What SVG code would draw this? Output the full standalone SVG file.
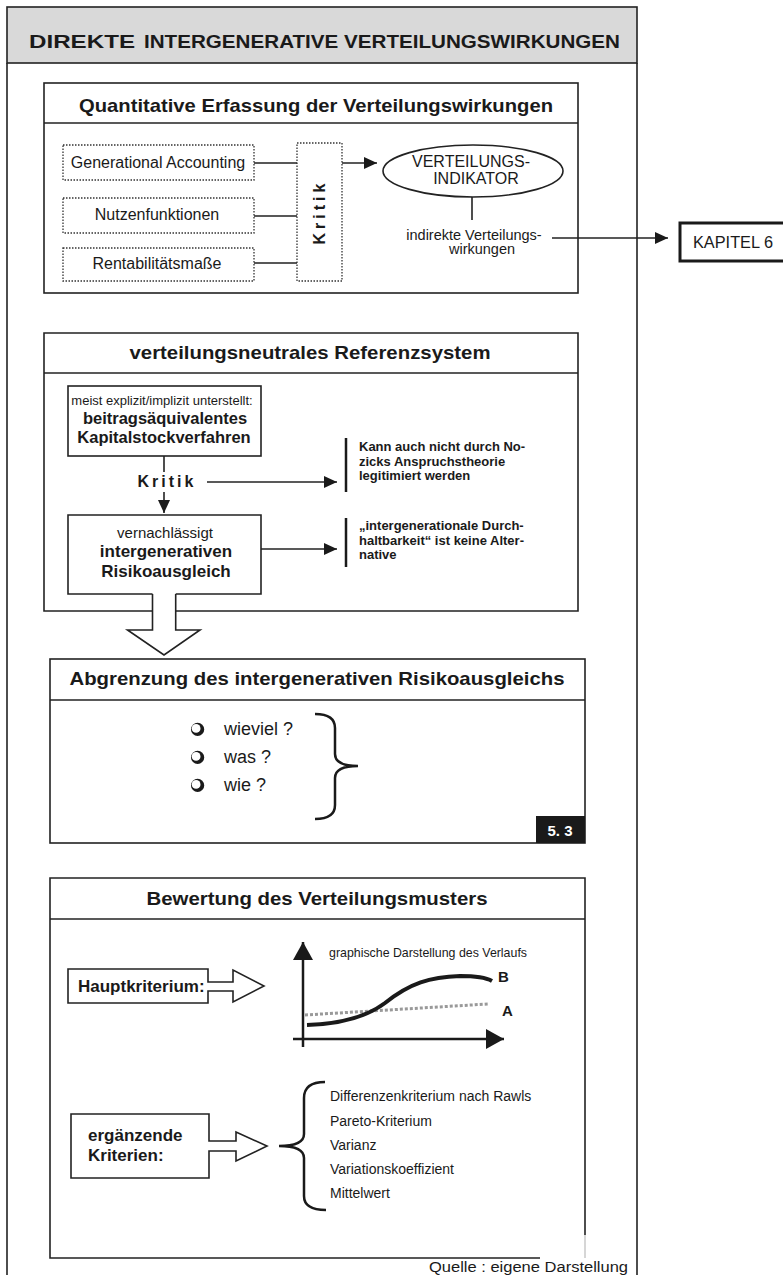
<svg xmlns="http://www.w3.org/2000/svg" width="783" height="1275" viewBox="0 0 783 1275">
<defs>
<style>
text{font-family:"Liberation Sans",Arial,sans-serif;fill:#1a1a1a}
.b{font-weight:bold}
.box{fill:#fff;stroke:#222;stroke-width:1.6}
.dot{fill:#fff;stroke:#333;stroke-width:1.3;stroke-dasharray:1.5 1.5}
.ln{fill:none;stroke:#222;stroke-width:1.6}
.title{font-weight:bold;font-size:19px;text-anchor:middle}
.c{text-anchor:middle}
</style>
<marker id="ah" markerWidth="13" markerHeight="12" refX="13" refY="6" orient="auto" markerUnits="userSpaceOnUse"><path d="M0,0 L13,6 L0,12 Z" fill="#1a1a1a"/></marker>
<marker id="big" markerWidth="18" markerHeight="20" refX="18" refY="10" orient="auto" markerUnits="userSpaceOnUse"><path d="M0,0 L18,10 L0,20 Z" fill="#1a1a1a"/></marker>
<g id="bullet"><circle cx="0.6" cy="0.4" r="6.6" fill="#1a1a1a"/><circle cx="-0.9" cy="-0.6" r="4.4" fill="#fff"/></g>
</defs>
<rect width="783" height="1275" fill="#fff"/>

<g id="frame">
<rect x="7" y="7" width="630" height="56" fill="#d9d9d9" stroke="#222" stroke-width="1.6"/>
<text x="29" y="48" class="b" font-size="19" textLength="106" lengthAdjust="spacingAndGlyphs">DIREKTE</text>
<text x="144" y="48" class="b" font-size="19" textLength="476" lengthAdjust="spacingAndGlyphs">INTERGENERATIVE VERTEILUNGSWIRKUNGEN</text>
<path class="ln" d="M7,63 L7,1275 M637,63 L637,1275"/>
</g>

<g id="box1">
<rect class="box" x="44" y="83" width="534" height="210"/>
<line class="ln" x1="44" y1="123" x2="578" y2="123"/>
<text x="316" y="112" class="title" textLength="474" lengthAdjust="spacingAndGlyphs">Quantitative Erfassung der Verteilungswirkungen</text>
</g>
<g id="ga"><rect class="dot" x="63" y="145" width="191" height="35"/><text x="158" y="168" class="c" font-size="16">Generational Accounting</text></g>
<g id="nutzen"><rect class="dot" x="63" y="198" width="191" height="35"/><text x="157" y="220" class="c" font-size="16">Nutzenfunktionen</text></g>
<g id="rentab"><rect class="dot" x="63" y="248" width="191" height="33"/><text x="157" y="269" class="c" font-size="16">Rentabilitätsmaße</text></g>
<g id="kritik1"><rect class="dot" x="297" y="143" width="45" height="138"/><text transform="translate(325,212) rotate(-90)" class="b c" font-size="16" letter-spacing="4">Kritik</text></g>
<g id="indikator"><ellipse cx="473" cy="171" rx="90" ry="26" fill="#fff" stroke="#222" stroke-width="1.6"/><text x="471" y="167" class="c" font-size="16">VERTEILUNGS-</text><text x="476" y="184" class="c" font-size="16">INDIKATOR</text></g>
<g id="indirekt"><text x="474" y="240" class="c" font-size="14.5">indirekte Verteilungs-</text><text x="482" y="254" class="c" font-size="14.5">wirkungen</text></g>
<g id="kapitel"><rect x="680" y="223" width="110" height="38" fill="#fff" stroke="#1a1a1a" stroke-width="3"/><text x="693" y="248" font-size="16" textLength="80" lengthAdjust="spacingAndGlyphs">KAPITEL 6</text></g>

<g id="box2">
<path class="ln" fill="#fff" d="M152.5,611 L44,611 L44,333 L578,333 L578,611 L175.7,611"/>
<line class="ln" x1="44" y1="373" x2="578" y2="373"/>
<text x="310" y="359" class="title" textLength="361" lengthAdjust="spacingAndGlyphs">verteilungsneutrales Referenzsystem</text>
</g>
<g id="kapitalstock"><rect class="box" x="68" y="386" width="193" height="70"/>
<text x="162" y="405" class="c" font-size="13">meist explizit/implizit unterstellt:</text>
<text x="165" y="424" class="b c" font-size="16.5">beitragsäquivalentes</text>
<text x="164" y="443" class="b c" font-size="16.5">Kapitalstockverfahren</text></g>
<g id="kritik2"><text x="167" y="487" class="b c" font-size="16" letter-spacing="3">Kritik</text></g>
<g id="nozick"><line x1="346" y1="438" x2="346" y2="492" stroke="#1a1a1a" stroke-width="2.5"/>
<text x="359" y="451" class="b" font-size="13">Kann auch nicht durch No-</text>
<text x="359" y="466" class="b" font-size="13">zicks Anspruchstheorie</text>
<text x="359" y="480" class="b" font-size="13">legitimiert werden</text></g>
<g id="risiko"><path class="ln" fill="#fff" d="M152.5,594 L68,594 L68,515 L261,515 L261,594 L175.7,594"/>
<text x="165" y="538" class="c" font-size="15">vernachlässigt</text>
<text x="166" y="557" class="b c" font-size="17">intergenerativen</text>
<text x="166" y="577" class="b c" font-size="17">Risikoausgleich</text></g>
<g id="durchhalt"><line x1="346" y1="518" x2="346" y2="567" stroke="#1a1a1a" stroke-width="2.5"/>
<text x="359" y="530" class="b" font-size="13">„intergenerationale Durch-</text>
<text x="359" y="545" class="b" font-size="13">haltbarkeit“ ist keine Alter-</text>
<text x="359" y="559" class="b" font-size="13">native</text></g>

<g id="box3">
<rect class="box" x="50" y="659" width="535" height="184"/>
<line class="ln" x1="50" y1="700" x2="585" y2="700"/>
<text x="317" y="685" class="title" textLength="495" lengthAdjust="spacingAndGlyphs">Abgrenzung des intergenerativen Risikoausgleichs</text>
<use href="#bullet" x="197" y="729"/><text x="224" y="735" font-size="18">wieviel ?</text>
<use href="#bullet" x="197" y="757"/><text x="224" y="763" font-size="18">was ?</text>
<use href="#bullet" x="197" y="785"/><text x="224" y="791" font-size="18">wie ?</text>
<path fill="none" stroke="#1a1a1a" stroke-width="2.5" d="M315,714 Q335,714 335,728 L335,754 Q335,766 358,766 Q335,766 335,778 L335,805 Q335,819 315,819"/>
<rect x="536" y="816" width="49" height="27" fill="#1a1a1a"/>
<text x="560" y="836" class="b c" font-size="15" style="fill:#fff">5. 3</text>
</g>

<g id="box4">
<path class="ln" d="M540,1258 L50,1258 L50,878 L585,878 L585,1235"/>
<path d="M585,1235 L585,1258" stroke="#bbb" stroke-width="1.2"/>
<line class="ln" x1="50" y1="919" x2="585" y2="919"/>
<text x="317" y="905" class="title" textLength="341" lengthAdjust="spacingAndGlyphs">Bewertung des Verteilungsmusters</text>
</g>
<g id="haupt"><path class="ln" fill="#fff" d="M208,982 L208,969 L68,969 L68,1003 L208,1003 L208,991 L233,991 L233,1002 L264,986 L233,970 L233,982 Z"/>
<text x="78" y="992" class="b" font-size="17">Hauptkriterium:</text></g>
<g id="graph">
<text x="329" y="957" font-size="13" textLength="198" lengthAdjust="spacingAndGlyphs">graphische Darstellung des Verlaufs</text>
<line x1="303" y1="1047" x2="303" y2="942" stroke="#1a1a1a" stroke-width="2.5" marker-end="url(#big)"/>
<line x1="293" y1="1039" x2="504" y2="1039" stroke="#1a1a1a" stroke-width="2.5" marker-end="url(#big)"/>
<path d="M305,1015 L488,1004" stroke="#999" stroke-width="3" stroke-dasharray="3 2" fill="none"/>
<path d="M307,1025 C340,1024 365,1018 385,1003 C410,983 430,977 460,976 C475,976 485,977 492,981" stroke="#1a1a1a" stroke-width="4" fill="none"/>
<text x="498" y="982" class="b" font-size="15">B</text>
<text x="502" y="1016" class="b" font-size="15">A</text>
</g>
<g id="ergaenzend"><path class="ln" fill="#fff" d="M209,1141 L209,1114 L71,1114 L71,1178 L209,1178 L209,1151 L236,1151 L236,1161 L267,1146 L236,1132 L236,1141 Z"/>
<text x="88" y="1141" class="b" font-size="17">ergänzende</text>
<text x="88" y="1161" class="b" font-size="17">Kriterien:</text></g>
<g id="kriterien">
<path fill="none" stroke="#1a1a1a" stroke-width="2.5" d="M325,1082 Q304,1082 304,1098 L304,1134 Q304,1146 279,1146 Q304,1146 304,1158 L304,1196 Q304,1210 326,1210"/>
<text x="330" y="1101" font-size="14">Differenzenkriterium nach Rawls</text>
<text x="330" y="1126" font-size="14">Pareto-Kriterium</text>
<text x="330" y="1150" font-size="14">Varianz</text>
<text x="330" y="1174" font-size="14">Variationskoeffizient</text>
<text x="330" y="1198" font-size="14">Mittelwert</text>
</g>
<g id="quelle"><text x="429" y="1272" font-size="14" textLength="199" lengthAdjust="spacingAndGlyphs">Quelle : eigene Darstellung</text></g>

<g id="connectors">
<path class="ln" d="M254,163 L297,163 M254,216 L297,216 M254,263 L297,263"/>
<line class="ln" x1="342" y1="163" x2="377" y2="163" marker-end="url(#ah)"/>
<line class="ln" x1="472" y1="197" x2="472" y2="220"/>
<line class="ln" x1="552" y1="238" x2="668" y2="238" marker-end="url(#ah)"/>
<line class="ln" x1="164" y1="456" x2="164" y2="472"/>
<line class="ln" x1="164" y1="492" x2="164" y2="513" marker-end="url(#ah)"/>
<line class="ln" x1="207" y1="482" x2="337" y2="482" marker-end="url(#ah)"/>
<line class="ln" x1="261" y1="549" x2="337" y2="549" marker-end="url(#ah)"/>
<path class="ln" fill="#fff" d="M152.5,594 L152.5,630 L127.5,630 L164,655 L200,630 L175.7,630 L175.7,594"/>
</g>
</svg>
